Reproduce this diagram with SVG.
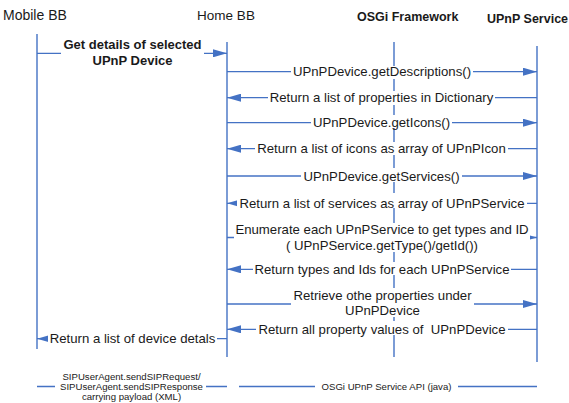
<svg xmlns="http://www.w3.org/2000/svg" width="569" height="403" viewBox="0 0 569 403">
<style>
.ll{stroke:#4472C4;stroke-width:1.4;fill:none}
.msg{stroke:#4472C4;stroke-width:1.3;fill:none}
.arr{marker-end:url(#ah)}
.bg{fill:#fff}
.t{font-family:"Liberation Sans",Arial,sans-serif;font-size:13.2px;fill:#1a1a1a;text-anchor:middle}
.b{font-weight:bold;font-size:13px}
.h{font-family:"Liberation Sans",Arial,sans-serif;fill:#1a1a1a}
.s{font-family:"Liberation Sans",Arial,sans-serif;font-size:9.6px;fill:#1a1a1a;text-anchor:middle}
</style>
<defs>
<marker id="ah" markerUnits="userSpaceOnUse" markerWidth="14" markerHeight="8" refX="14" refY="4" orient="auto">
<path d="M0,0 L14,4 L0,8 z" fill="#4472C4"/>
</marker>
</defs>
<rect width="569" height="403" fill="#fff"/>
<g id="mobile-bb">
<text class="h" x="3" y="20" font-size="14">Mobile BB</text>
<line class="ll" x1="37" y1="34" x2="37" y2="349"/>
</g>
<g id="home-bb">
<text class="h" x="226" y="20" font-size="13.5" text-anchor="middle">Home BB</text>
<line class="ll" x1="227" y1="42" x2="227" y2="357"/>
</g>
<g id="osgi-framework">
<text class="h" x="357" y="21" font-size="12.5" font-weight="bold">OSGi Framework</text>
<line class="ll" x1="394" y1="42" x2="394" y2="357"/>
</g>
<g id="upnp-service">
<text class="h" x="487" y="23" font-size="12.5" font-weight="bold">UPnP Service</text>
<line class="ll" x1="537" y1="46" x2="537" y2="362"/>
</g>
<g id="connectors">
<line class="msg arr" x1="37" y1="53.3" x2="227" y2="53.3"/>
<line class="msg arr" x1="227" y1="71.7" x2="537" y2="71.7"/>
<line class="msg arr" x1="537" y1="97.7" x2="227" y2="97.7"/>
<line class="msg arr" x1="227" y1="122.7" x2="537" y2="122.7"/>
<line class="msg arr" x1="537" y1="148.7" x2="227" y2="148.7"/>
<line class="msg arr" x1="227" y1="176" x2="537" y2="176"/>
<line class="msg arr" x1="537" y1="203.3" x2="227" y2="203.3"/>
<line class="msg arr" x1="227" y1="237.5" x2="537" y2="237.5"/>
<line class="msg arr" x1="537" y1="269.3" x2="227" y2="269.3"/>
<line class="msg arr" x1="227" y1="304" x2="537" y2="304"/>
<line class="msg arr" x1="537" y1="329.3" x2="227" y2="329.3"/>
<line class="msg arr" x1="227" y1="338.7" x2="37" y2="338.7"/>
<line class="msg" x1="37" y1="386.5" x2="227" y2="386.5"/>
<line class="msg" x1="239" y1="386.5" x2="537" y2="386.5"/>
<g id="labels">
<rect class="bg" x="61" y="38" width="143" height="32"/>
<rect class="bg" x="291" y="66" width="182" height="13"/>
<rect class="bg" x="268" y="91" width="227" height="14"/>
<rect class="bg" x="311" y="115" width="141" height="13"/>
<rect class="bg" x="255" y="142" width="253" height="13"/>
<rect class="bg" x="301" y="168" width="161" height="14"/>
<rect class="bg" x="237" y="193" width="290" height="15"/>
<rect class="bg" x="234" y="223" width="296" height="29"/>
<rect class="bg" x="253" y="262" width="258" height="13"/>
<rect class="bg" x="291" y="288" width="183" height="29"/>
<rect class="bg" x="256" y="321" width="252" height="14"/>
<rect class="bg" x="48" y="332" width="169" height="13"/>
<rect class="bg" x="55" y="372" width="151" height="31"/>
<rect class="bg" x="315" y="380" width="143" height="13"/>
<text class="t b" x="132.5" y="49">Get details of selected</text>
<text class="t b" x="132.5" y="65">UPnP Device</text>
<text class="t" x="382" y="76.2">UPnPDevice.getDescriptions()</text>
<text class="t" x="381.5" y="102.2">Return a list of properties in Dictionary</text>
<text class="t" x="381.5" y="127.2">UPnPDevice.getIcons()</text>
<text class="t" x="381.5" y="153.2">Return a list of icons as array of UPnPIcon</text>
<text class="t" x="381.5" y="180.5">UPnPDevice.getServices()</text>
<text class="t" x="382" y="207.8">Return a list of services as array of UPnPService</text>
<text class="t" x="382" y="234">Enumerate each UPnPService to get types and ID</text>
<text class="t" x="382" y="250">( UPnPService.getType()/getId())</text>
<text class="t" x="382" y="273.8">Return types and Ids for each UPnPService</text>
<text class="t" x="382.5" y="300">Retrieve othe properties under</text>
<text class="t" x="382.5" y="314.5">UPnPDevice</text>
<text class="t" x="382" y="333.8" xml:space="preserve">Return all property values of  UPnPDevice</text>
<text class="t" x="132.5" y="343.2">Return a list of device detals</text>
<text class="s" x="131.5" y="380">SIPUserAgent.sendSIPRequest/</text>
<text class="s" x="131.5" y="390">SIPUserAgent.sendSIPResponse</text>
<text class="s" x="131.5" y="400">carrying payload (XML)</text>
<text class="s" x="386.5" y="390" font-size="10">OSGi UPnP Service API (java)</text>
</g>
</g>
</svg>
